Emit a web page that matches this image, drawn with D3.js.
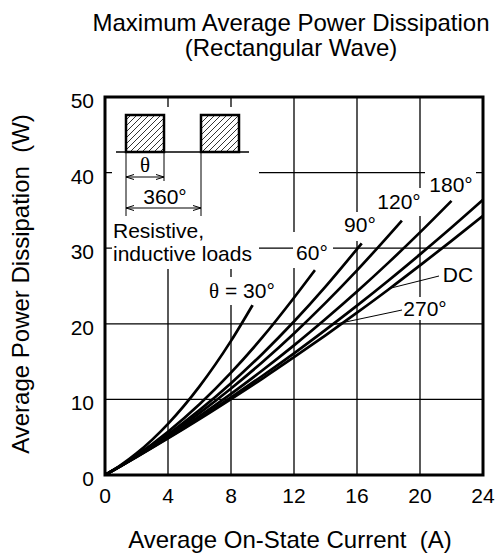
<!DOCTYPE html>
<html><head><meta charset="utf-8">
<script src="https://cdn.jsdelivr.net/npm/d3@7"></script>
<style>
html,body{margin:0;padding:0;background:#fff;}
text{font-family:"Liberation Sans",Arial,sans-serif;fill:#000;}
</style></head>
<body><svg id="c" width="498" height="559"></svg>
<script>
// ---- data ----
const xTicks = [0, 4, 8, 12, 16, 20, 24];
const yTicks = [0, 10, 20, 30, 40, 50];
const seriesNames = ["30°", "60°", "90°", "120°", "180°", "270°", "DC"];
const i30  = [0, 1, 2, 4, 6, 8, 9.37];
const p30  = [0, 1.30, 2.86, 6.77, 11.73, 17.74, 22.47];
const i60  = [0, 1, 2, 4, 6, 8, 10, 12, 13.33];
const p60  = [0, 1.23, 2.60, 5.72, 9.36, 13.54, 18.23, 23.45, 27.1];
const i90  = [0, 1, 2, 4, 6, 8, 10, 12, 14, 16.3];
const p90  = [0, 1.21, 2.51, 5.37, 8.58, 12.14, 16.05, 20.3, 24.92, 30.65];
const i120 = [0, 1, 2, 4, 6, 8, 10, 12, 14, 16, 18.85];
const p120 = [0, 1.2, 2.47, 5.19, 8.18, 11.44, 14.95, 18.73, 22.77, 27.07, 33.66];
const i180 = [0, 1, 2, 4, 6, 8, 10, 12, 14, 16, 18, 20, 22];
const p180 = [0, 1.19, 2.42, 5.02, 7.79, 10.74, 13.86, 17.15, 20.63, 24.27, 28.09, 32.09, 36.26];
const i270 = [0, 1, 2, 4, 6, 8, 10, 12, 14, 16, 18, 20, 22, 24];
const p270 = [0, 1.18, 2.39, 4.90, 7.53, 10.27, 13.13, 16.1, 19.2, 22.4, 25.73, 29.18, 32.73, 36.4];
const iDC  = [0, 1, 2, 4, 6, 8, 10, 12, 14, 16, 18, 20, 22, 24];
const pDC  = [0, 1.18, 2.38, 4.84, 7.39, 10.04, 12.76, 15.58, 18.48, 21.47, 24.54, 27.72, 30.97, 34.3];

const seriesI = [i30, i60, i90, i120, i180, i270, iDC];
const seriesP = [p30, p60, p90, p120, p180, p270, pDC];

// ---- layout ----
const svg = d3.select("#c");
const L = 105, R = 483, T = 97, B = 475;
const x = d3.scaleLinear().domain([0, 24]).range([L, R]);
const y = d3.scaleLinear().domain([0, 50]).range([B, T]);

// title
const title = svg.append("text").attr("text-anchor", "middle").attr("font-size", 24);
title.append("tspan").attr("x", 291).attr("y", 31).text("Maximum Average Power Dissipation");
title.append("tspan").attr("x", 291).attr("y", 56).text("(Rectangular Wave)");

// grid
const grid = svg.append("g").attr("stroke", "#000").attr("stroke-width", 1.3);
grid.selectAll("line.v").data(xTicks.slice(1, -1)).join("line")
  .attr("x1", d => x(d)).attr("x2", d => x(d)).attr("y1", T).attr("y2", B);
grid.selectAll("line.h").data(yTicks.slice(1, -1)).join("line")
  .attr("y1", d => y(d)).attr("y2", d => y(d)).attr("x1", L).attr("x2", R);

// masks (gaps in the grid around the inset and labels)
const masks = [
  [112, 107, 259, 269],   // inset area
  [207, 277, 278, 305],   // theta = 30
  [293, 232, 333, 268],   // 60
  [343, 212, 379, 241],   // 90
  [376, 188, 424, 216],   // 120
  [425, 168, 476, 196],   // 180
  [440, 263, 476, 286],   // DC
  [401, 297, 448, 320]    // 270
];
svg.append("g").selectAll("rect").data(masks).join("rect")
  .attr("x", d => d[0]).attr("y", d => d[1])
  .attr("width", d => d[2] - d[0]).attr("height", d => d[3] - d[1])
  .attr("fill", "#fff");

// curves
const line = d3.line().x(d => x(d[0])).y(d => y(d[1])).curve(d3.curveMonotoneX);
svg.append("defs").append("clipPath").attr("id", "clip")
  .append("rect").attr("x", L).attr("y", T).attr("width", R - L).attr("height", B - T);
svg.append("g").attr("clip-path", "url(#clip)")
  .selectAll("path").data(seriesNames).join("path")
  .attr("d", (n, k) => line(seriesI[k].map((v, j) => [v, seriesP[k][j]])))
  .attr("fill", "none").attr("stroke", "#000").attr("stroke-width", 2.7);

// frame
svg.append("rect").attr("x", L).attr("y", T).attr("width", R - L).attr("height", B - T)
  .attr("fill", "none").attr("stroke", "#000").attr("stroke-width", 3);

// tick labels
svg.append("g").selectAll("text").data(xTicks).join("text")
  .attr("x", d => x(d)).attr("y", 503).attr("text-anchor", "middle").attr("font-size", 21)
  .text(d => d);
svg.append("g").selectAll("text").data(yTicks).join("text")
  .attr("x", 94).attr("y", d => y(d) + 11).attr("text-anchor", "end").attr("font-size", 21)
  .text(d => d);

// axis titles
svg.append("text").attr("x", 290).attr("y", 548).attr("text-anchor", "middle")
  .attr("font-size", 24).attr("xml:space", "preserve").text("Average On-State Current  (A)");
svg.append("text").attr("transform", "translate(29,284) rotate(-90)").attr("text-anchor", "middle")
  .attr("font-size", 24).attr("xml:space", "preserve").text("Average Power Dissipation  (W)");

// ---- inset waveform ----
const defs = svg.select("defs");
const pat = defs.append("pattern").attr("id", "hatch").attr("patternUnits", "userSpaceOnUse")
  .attr("width", 6).attr("height", 6);
pat.append("path").attr("d", "M-1,7 L7,-1 M-4,4 L4,-4 M2,10 L10,2")
  .attr("stroke", "#000").attr("stroke-width", 0.8);
const ins = svg.append("g");
[[126, 164], [201, 239]].forEach(([a, b]) => {
  ins.append("rect").attr("x", a).attr("y", 115).attr("width", b - a).attr("height", 37)
    .attr("fill", "url(#hatch)").attr("stroke", "#000").attr("stroke-width", 2.5);
});
ins.append("line").attr("x1", 116).attr("x2", 249).attr("y1", 152).attr("y2", 152)
  .attr("stroke", "#000").attr("stroke-width", 1.3);
const thin = (x1, y1, x2, y2) => ins.append("line").attr("x1", x1).attr("y1", y1)
  .attr("x2", x2).attr("y2", y2).attr("stroke", "#000").attr("stroke-width", 1);
thin(126, 153, 126, 216);
thin(164, 153, 164, 181);
thin(201, 153, 201, 216);
const arrow = (x1, x2, yy) => {
  thin(x1, yy, x2, yy);
  thin(x1, yy, x1 + 8, yy - 2.5); thin(x1, yy, x1 + 8, yy + 2.5);
  thin(x2, yy, x2 - 8, yy - 2.5); thin(x2, yy, x2 - 8, yy + 2.5);
};
arrow(126, 164, 177);
arrow(126, 201, 208);
ins.append("text").attr("x", 145).attr("y", 172).attr("text-anchor", "middle")
  .attr("font-size", 21).style("font-family", "'Liberation Serif','Times New Roman',serif").text("θ");
ins.append("text").attr("x", 165).attr("y", 204).attr("text-anchor", "middle")
  .attr("font-size", 21).text("360°");
ins.append("text").attr("x", 113).attr("y", 238).attr("font-size", 21).text("Resistive,");
ins.append("text").attr("x", 113).attr("y", 261).attr("font-size", 21).text("inductive loads");

// ---- curve labels ----
const lab = svg.append("g").attr("font-size", 21);
const t30 = lab.append("text").attr("x", 242).attr("y", 298).attr("text-anchor", "middle");
t30.append("tspan").style("font-family", "'Liberation Serif','Times New Roman',serif").text("θ");
t30.append("tspan").text(" = 30°");
lab.append("text").attr("x", 312).attr("y", 260).attr("text-anchor", "middle").text("60°");
lab.append("text").attr("x", 360).attr("y", 232).attr("text-anchor", "middle").text("90°");
lab.append("text").attr("x", 399).attr("y", 209).attr("text-anchor", "middle").text("120°");
lab.append("text").attr("x", 451).attr("y", 192).attr("text-anchor", "middle").text("180°");
lab.append("text").attr("x", 458).attr("y", 282).attr("text-anchor", "middle").text("DC");
lab.append("text").attr("x", 425).attr("y", 316).attr("text-anchor", "middle").text("270°");

// leaders to curves
const leader = (x1, y1, I, P) => svg.append("line").attr("x1", x1).attr("y1", y1)
  .attr("x2", x(I)).attr("y2", y(P)).attr("stroke", "#000").attr("stroke-width", 1);
leader(439, 276, 18.1, 24.7);
leader(402, 310, 14.4, 19.85);
</script></body></html>
